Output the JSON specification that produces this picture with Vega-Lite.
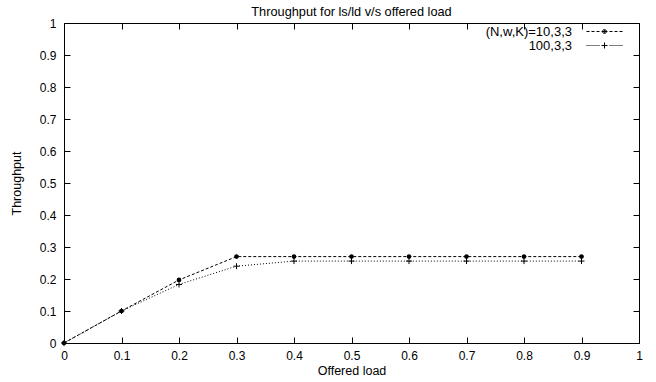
{
  "$schema": "https://vega.github.io/schema/vega-lite/v6.json",
  "width": 575,
  "height": 320,
  "autosize": {"type": "none"},
  "padding": {"left": 64, "top": 23, "right": 17, "bottom": 39},
  "background": "white",
  "config": {
    "view": {"stroke": null},
    "font": "Liberation Sans",
    "axis": {
      "grid": false,
      "domainColor": "black",
      "domainWidth": 1,
      "tickColor": "black",
      "tickWidth": 1,
      "tickSize": -6,
      "labelColor": "black",
      "labelFont": "Liberation Sans",
      "labelFontSize": 12,
      "labelFlush": false,
      "labelOverlap": false,
      "titleColor": "black",
      "titleFont": "Liberation Sans",
      "titleFontSize": 12.5,
      "titleFontWeight": "normal"
    }
  },
  "title": {
    "text": "Throughput for ls/ld v/s offered load",
    "font": "Liberation Sans",
    "fontSize": 12.75,
    "fontWeight": "normal",
    "color": "black",
    "offset": -2
  },
  "data": {
    "values": [
      {"load": 0.0, "thr": 0.0, "series": "(N,w,K)=10,3,3"},
      {"load": 0.1, "thr": 0.1, "series": "(N,w,K)=10,3,3"},
      {"load": 0.2, "thr": 0.197, "series": "(N,w,K)=10,3,3"},
      {"load": 0.3, "thr": 0.27, "series": "(N,w,K)=10,3,3"},
      {"load": 0.4, "thr": 0.27, "series": "(N,w,K)=10,3,3"},
      {"load": 0.5, "thr": 0.27, "series": "(N,w,K)=10,3,3"},
      {"load": 0.6, "thr": 0.27, "series": "(N,w,K)=10,3,3"},
      {"load": 0.7, "thr": 0.27, "series": "(N,w,K)=10,3,3"},
      {"load": 0.8, "thr": 0.27, "series": "(N,w,K)=10,3,3"},
      {"load": 0.9, "thr": 0.27, "series": "(N,w,K)=10,3,3"},
      {"load": 0.0, "thr": 0.0, "series": "100,3,3"},
      {"load": 0.1, "thr": 0.1, "series": "100,3,3"},
      {"load": 0.2, "thr": 0.183, "series": "100,3,3"},
      {"load": 0.3, "thr": 0.24, "series": "100,3,3"},
      {"load": 0.4, "thr": 0.256, "series": "100,3,3"},
      {"load": 0.5, "thr": 0.256, "series": "100,3,3"},
      {"load": 0.6, "thr": 0.256, "series": "100,3,3"},
      {"load": 0.7, "thr": 0.256, "series": "100,3,3"},
      {"load": 0.8, "thr": 0.256, "series": "100,3,3"},
      {"load": 0.9, "thr": 0.256, "series": "100,3,3"}
    ]
  },
  "resolve": {
    "scale": {"x": "independent", "y": "independent"},
    "axis": {"x": "independent", "y": "independent"}
  },
  "layer": [
    {
      "transform": [{"filter": "datum.series === '(N,w,K)=10,3,3'"}],
      "mark": {"type": "line", "color": "black", "strokeWidth": 1, "strokeDash": [3, 2]},
      "encoding": {
        "x": {
          "field": "load", "type": "quantitative",
          "scale": {"domain": [0, 1], "nice": false, "zero": false},
          "axis": {
            "orient": "bottom", "title": "Offered load",
            "values": [0, 0.1, 0.2, 0.3, 0.4, 0.5, 0.6, 0.7, 0.8, 0.9, 1],
            "format": ".1~f", "labelPadding": 13, "titlePadding": 3
          }
        },
        "y": {
          "field": "thr", "type": "quantitative",
          "scale": {"domain": [0, 1], "nice": false, "zero": false},
          "axis": {
            "orient": "left", "title": "Throughput",
            "values": [0, 0.1, 0.2, 0.3, 0.4, 0.5, 0.6, 0.7, 0.8, 0.9, 1],
            "format": ".1~f", "labelPadding": 14, "titlePadding": 16
          }
        }
      }
    },
    {
      "transform": [{"filter": "datum.series === '100,3,3'"}],
      "mark": {"type": "line", "color": "black", "strokeWidth": 1, "strokeDash": [1, 2]},
      "encoding": {
        "x": {
          "field": "load", "type": "quantitative",
          "scale": {"domain": [0, 1], "nice": false, "zero": false},
          "axis": null
        },
        "y": {
          "field": "thr", "type": "quantitative",
          "scale": {"domain": [0, 1], "nice": false, "zero": false},
          "axis": null
        }
      }
    },
    {
      "transform": [{"filter": "datum.series === '(N,w,K)=10,3,3'"}],
      "mark": {"type": "point", "shape": "circle", "filled": true, "color": "black", "size": 22, "opacity": 1},
      "encoding": {
        "x": {
          "field": "load", "type": "quantitative",
          "scale": {"domain": [0, 1], "nice": false, "zero": false},
          "axis": {
            "orient": "top", "title": null, "labels": false,
            "values": [0, 0.1, 0.2, 0.3, 0.4, 0.5, 0.6, 0.7, 0.8, 0.9, 1]
          }
        },
        "y": {
          "field": "thr", "type": "quantitative",
          "scale": {"domain": [0, 1], "nice": false, "zero": false},
          "axis": {
            "orient": "right", "title": null, "labels": false,
            "values": [0, 0.1, 0.2, 0.3, 0.4, 0.5, 0.6, 0.7, 0.8, 0.9, 1]
          }
        }
      }
    },
    {
      "transform": [{"filter": "datum.series === '100,3,3'"}],
      "mark": {"type": "point", "shape": "M-1,0H1M0,-1V1", "filled": false, "color": "black", "strokeWidth": 1, "size": 36, "opacity": 1},
      "encoding": {
        "x": {
          "field": "load", "type": "quantitative",
          "scale": {"domain": [0, 1], "nice": false, "zero": false},
          "axis": null
        },
        "y": {
          "field": "thr", "type": "quantitative",
          "scale": {"domain": [0, 1], "nice": false, "zero": false},
          "axis": null
        }
      }
    },
    {
      "transform": [{"filter": "datum.load > 5"}],
      "mark": {"type": "point", "filled": false, "color": "black", "size": 100, "opacity": 1, "strokeWidth": 1},
      "encoding": {
        "x": {
          "field": "load", "type": "quantitative",
          "scale": {"domain": [0, 1], "nice": false, "zero": false},
          "axis": null
        },
        "y": {
          "field": "thr", "type": "quantitative",
          "scale": {"domain": [0, 1], "nice": false, "zero": false},
          "axis": null
        },
        "shape": {
          "field": "series", "type": "nominal",
          "scale": {
            "domain": ["(N,w,K)=10,3,3", "100,3,3"],
            "range": [
              "M-3.6,0H-3M-2.6,0H-2M-1.6,0H-1M-0.6,0H0.6M1,0H1.6M2,0H2.6M3,0H3.6M-0.4,0A0.4,0.4 0 1,0 0.4,0A0.4,0.4 0 1,0 -0.4,0M-0.2,0A0.2,0.2 0 1,0 0.2,0A0.2,0.2 0 1,0 -0.2,0",
              "M-3.6,0H-3.4M-3.2,0H-3M-2.8,0H-2.6M-2.4,0H-2.2M-2,0H-1.8M-1.6,0H-1.4M-1.2,0H-1M-0.6,0H0.6M0,-0.6V0.6M1,0H1.2M1.4,0H1.6M1.8,0H2M2.2,0H2.4M2.6,0H2.8M3,0H3.2M3.4,0H3.6"
            ]
          },
          "legend": {
            "title": null,
            "orient": "none",
            "legendX": 534,
            "legendY": 2,
            "padding": 0,
            "rowPadding": 0,
            "symbolSize": 100,
            "symbolOpacity": 1,
            "symbolFillColor": "transparent",
            "symbolStrokeColor": "black",
            "symbolStrokeWidth": 1,
            "symbolOffset": 0,
            "labelOffset": -39,
            "labelAlign": "right",
            "labelFont": "Liberation Sans",
            "labelFontSize": 13,
            "labelColor": "black",
            "labelLimit": 300
          }
        }
      }
    }
  ]
}
